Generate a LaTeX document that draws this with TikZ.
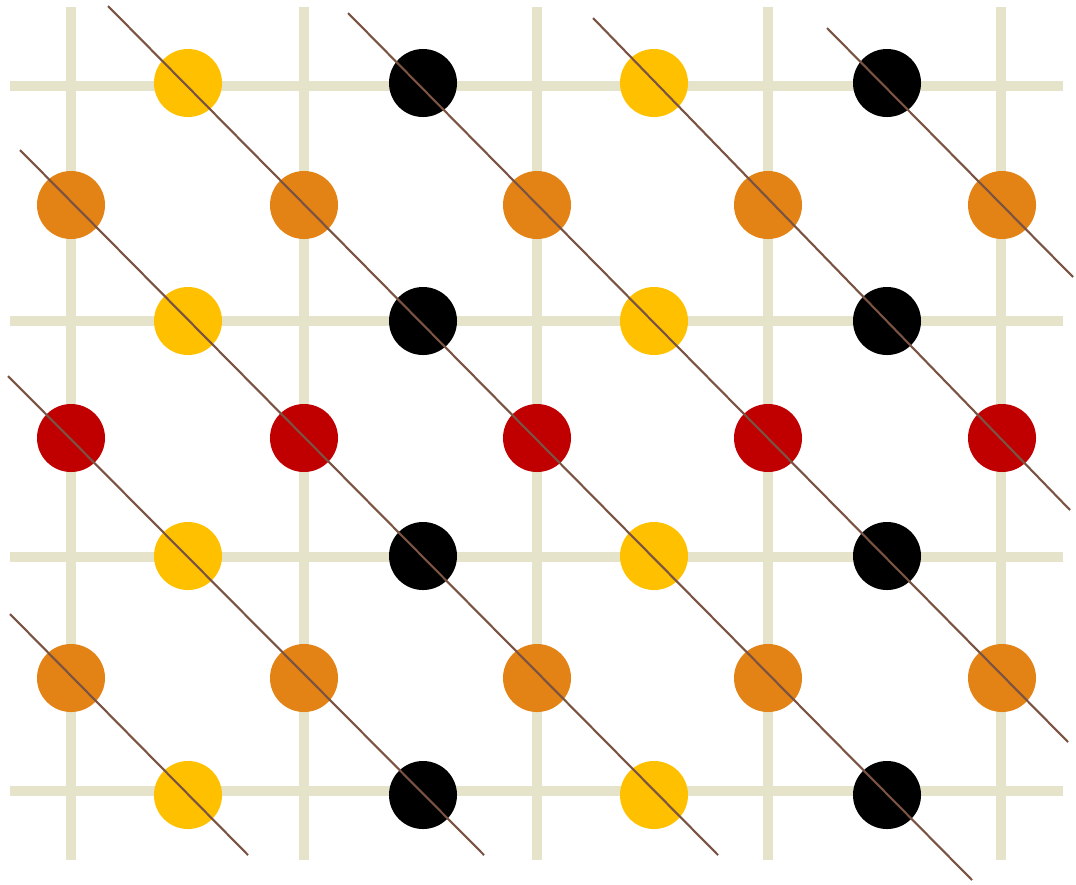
\documentclass[tikz,border=0pt]{standalone}
\usepackage{xcolor}
\usepackage{tikz}
\definecolor{GRail}{HTML}{E6E3CB}
\definecolor{GYellow}{HTML}{FFC000}
\definecolor{GOrange}{HTML}{E38215}
\definecolor{GRed}{HTML}{C00000}
\definecolor{GBrown}{HTML}{7A5343}

\begin{document}
\begin{tikzpicture}[
  x=0.025cm,y=-0.025cm,
  rail/.style={draw=GRail,line width=7.1pt},
  dot/.style={circle,inner sep=0pt,minimum size=1.7cm},
  cut/.style={draw=GBrown,line width=1.5pt}
]
  \useasboundingbox (0,0) rectangle (1076,884);
  % grid
  \foreach \x in {71,304,537,768,1001}
    {\draw[rail] (\x,7) -- (\x,860);}
  \foreach \y in {86,321,557,791}
    {\draw[rail] (10,\y) -- (1063,\y);}
  % yellow and black rows
  \foreach \y/\r in {83/1,321/3,556/5,795/7}
    \foreach \x/\c/\k in {188/GYellow/1,423/black/2,654/GYellow/3,887/black/4}
      {\node[dot,fill=\c] (d\r\k) at (\x,\y) {};}
  % orange and red rows
  \foreach \y/\r/\c in {205/2/GOrange,438/4/GRed,678/6/GOrange}
    \foreach \x/\k in {71/1,304/2,537/3,768/4,1002/5}
      {\node[dot,fill=\c] (d\r\k) at (\x,\y) {};}
  % diagonals
  \foreach \i/\xa/\ya/\xb/\yb in {1/108/6/972/880,2/348/13/1068/742,
      3/593/18/1070/510,4/827/28/1073/277,5/20/150/718/855,
      6/8/376/484/855,7/10/614/248/855}
    {\draw[cut] (\xa,\ya) coordinate (s\i) -- (\xb,\yb) coordinate (e\i);}
\end{tikzpicture}
\end{document}
